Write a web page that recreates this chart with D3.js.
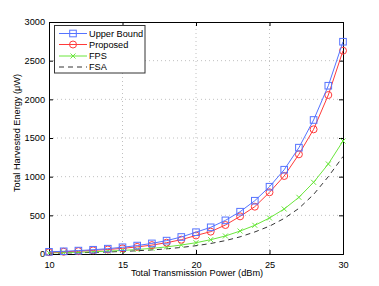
<!DOCTYPE html>
<html><head><meta charset="utf-8">
<script src="https://cdn.jsdelivr.net/npm/d3@7"></script>
<style>body{margin:0;background:#fff}svg{display:block}text{font-family:"Liberation Sans",Arial,sans-serif}</style>
</head><body>
<script>
const power = [10,11,12,13,14,15,16,17,18,19,20,21,22,23,24,25,26,27,28,29,30];
const upperBound = [28,35,44,55,69,87,109,137,173,220,282,345,435,547,689,870,1090,1375,1733,2176,2745];
const proposed = [23,29,37,47,58,73,92,115,146,185,240,289,375,487,612,798,1009,1289,1612,2056,2629];
const fps = [14.6,18,23,29,37,46,58,73,92,116,146,185,233,297,371,466,582,733,927,1164,1461];
const fsa = [10,13,16,21,26,33,42,53,67,85,107,136,173,222,285,360,460,590,770,1000,1260];
const xTicks = [10,15,20,25,30];
const yTicks = [0,500,1000,1500,2000,2500,3000];
const seriesNames = ["Upper Bound","Proposed","FPS","FSA"];

const W=379,H=286,FS=9.2;
const m={l:49,r:36,t:22,b:32};
const svg=d3.select("body").append("svg").attr("width",W).attr("height",H);
const x=d3.scaleLinear().domain([10,30]).range([m.l,W-m.r]);
const y=d3.scaleLinear().domain([0,3000]).range([H-m.b,m.t]);
const x0=m.l,x1=W-m.r,y0=H-m.b,y1=m.t;

// grid
const g=svg.append("g");
g.selectAll(".gx").data(xTicks.slice(1,-1)).join("line").attr("x1",d=>x(d)).attr("x2",d=>x(d)).attr("y1",y0).attr("y2",y1)
 .attr("stroke","#b0b0b0").attr("stroke-width",0.8).attr("stroke-dasharray","1,3");
g.selectAll(".gy").data(yTicks.slice(1,-1)).join("line").attr("y1",d=>y(d)).attr("y2",d=>y(d)).attr("x1",x0).attr("x2",x1)
 .attr("stroke","#b0b0b0").attr("stroke-width",0.8).attr("stroke-dasharray","1,3");

// axes
const ax=svg.append("g").attr("transform",`translate(0,${y0})`).call(d3.axisBottom(x).tickValues(xTicks).tickSize(-4).tickPadding(7).tickFormat(d3.format("d")));
const ay=svg.append("g").attr("transform",`translate(${x0},0)`).call(d3.axisLeft(y).tickValues(yTicks).tickSize(-4).tickPadding(4).tickFormat(d3.format("d")));
const axT=svg.append("g").attr("transform",`translate(0,${y1})`).call(d3.axisTop(x).tickValues(xTicks).tickSize(-4).tickFormat(""));
const ayR=svg.append("g").attr("transform",`translate(${x1},0)`).call(d3.axisRight(y).tickValues(yTicks).tickSize(-4).tickFormat(""));
[ax,ay,axT,ayR].forEach(a=>{a.select(".domain").attr("stroke","#000").attr("stroke-width",1);a.selectAll(".tick line").attr("stroke","#000");a.selectAll("text").attr("font-size",FS).attr("fill","#000");});

const line=d3.line().x((d,i)=>x(power[i])).y(d=>y(d));
const colors={ub:"#5573ff",pr:"#ff3a3a",fps:"#6ae63c",fsa:"#000"};

svg.append("path").datum(fsa).attr("d",line).attr("fill","none").attr("stroke",colors.fsa).attr("stroke-width",0.8).attr("stroke-dasharray","5,4");
svg.append("path").datum(fps).attr("d",line).attr("fill","none").attr("stroke",colors.fps).attr("stroke-width",1);
svg.append("g").selectAll("path").data(fps).join("path").attr("transform",(d,i)=>`translate(${x(power[i])},${y(d)})`)
 .attr("d","M-2.5,-2.5L2.5,2.5M-2.5,2.5L2.5,-2.5").attr("stroke",colors.fps).attr("stroke-width",1);
svg.append("path").datum(proposed).attr("d",line).attr("fill","none").attr("stroke",colors.pr).attr("stroke-width",1);
svg.append("g").selectAll("circle").data(proposed).join("circle").attr("cx",(d,i)=>x(power[i])).attr("cy",d=>y(d)).attr("r",3.5)
 .attr("fill","none").attr("stroke",colors.pr).attr("stroke-width",1);
svg.append("path").datum(upperBound).attr("d",line).attr("fill","none").attr("stroke",colors.ub).attr("stroke-width",1);
svg.append("g").selectAll("rect").data(upperBound).join("rect").attr("x",(d,i)=>x(power[i])-3.3).attr("y",d=>y(d)-3.3).attr("width",6.6).attr("height",6.6)
 .attr("fill","none").attr("stroke",colors.ub).attr("stroke-width",1);

// legend
const lg=svg.append("g");
lg.append("rect").attr("x",54.5).attr("y",25.5).attr("width",90.5).attr("height",47.5).attr("fill","#fff").attr("stroke","#333").attr("stroke-width",1);
const ly=[33.5,44.5,56,67];
const keys=["ub","pr","fps","fsa"];
keys.forEach((k,i)=>{
  const yy=ly[i];
  const ln=lg.append("line").attr("x1",59).attr("x2",87).attr("y1",yy).attr("y2",yy).attr("stroke",colors[k]).attr("stroke-width",k==="fsa"?0.8:1);
  if(k==="fsa") ln.attr("stroke-dasharray","5,4");
  if(k==="ub") lg.append("rect").attr("x",73-3.3).attr("y",yy-3.3).attr("width",6.6).attr("height",6.6).attr("fill","none").attr("stroke",colors.ub);
  if(k==="pr") lg.append("circle").attr("cx",73).attr("cy",yy).attr("r",3.5).attr("fill","none").attr("stroke",colors.pr);
  if(k==="fps") lg.append("path").attr("transform",`translate(73,${yy})`).attr("d","M-2.5,-2.5L2.5,2.5M-2.5,2.5L2.5,-2.5").attr("stroke",colors.fps);
  lg.append("text").attr("x",89).attr("y",yy+3.3).attr("font-size",FS).text(seriesNames[i]);
});

// labels
svg.append("text").attr("x",(x0+x1)/2+1).attr("y",276).attr("text-anchor","middle").attr("font-size",FS).text("Total Transmission Power (dBm)");
svg.append("text").attr("transform",`translate(19.5,${(y0+y1)/2-5}) rotate(-90)`).attr("text-anchor","middle").attr("font-size",FS).text("Total Harvested Energy (\u03BCW)");
</script>
</body></html>
